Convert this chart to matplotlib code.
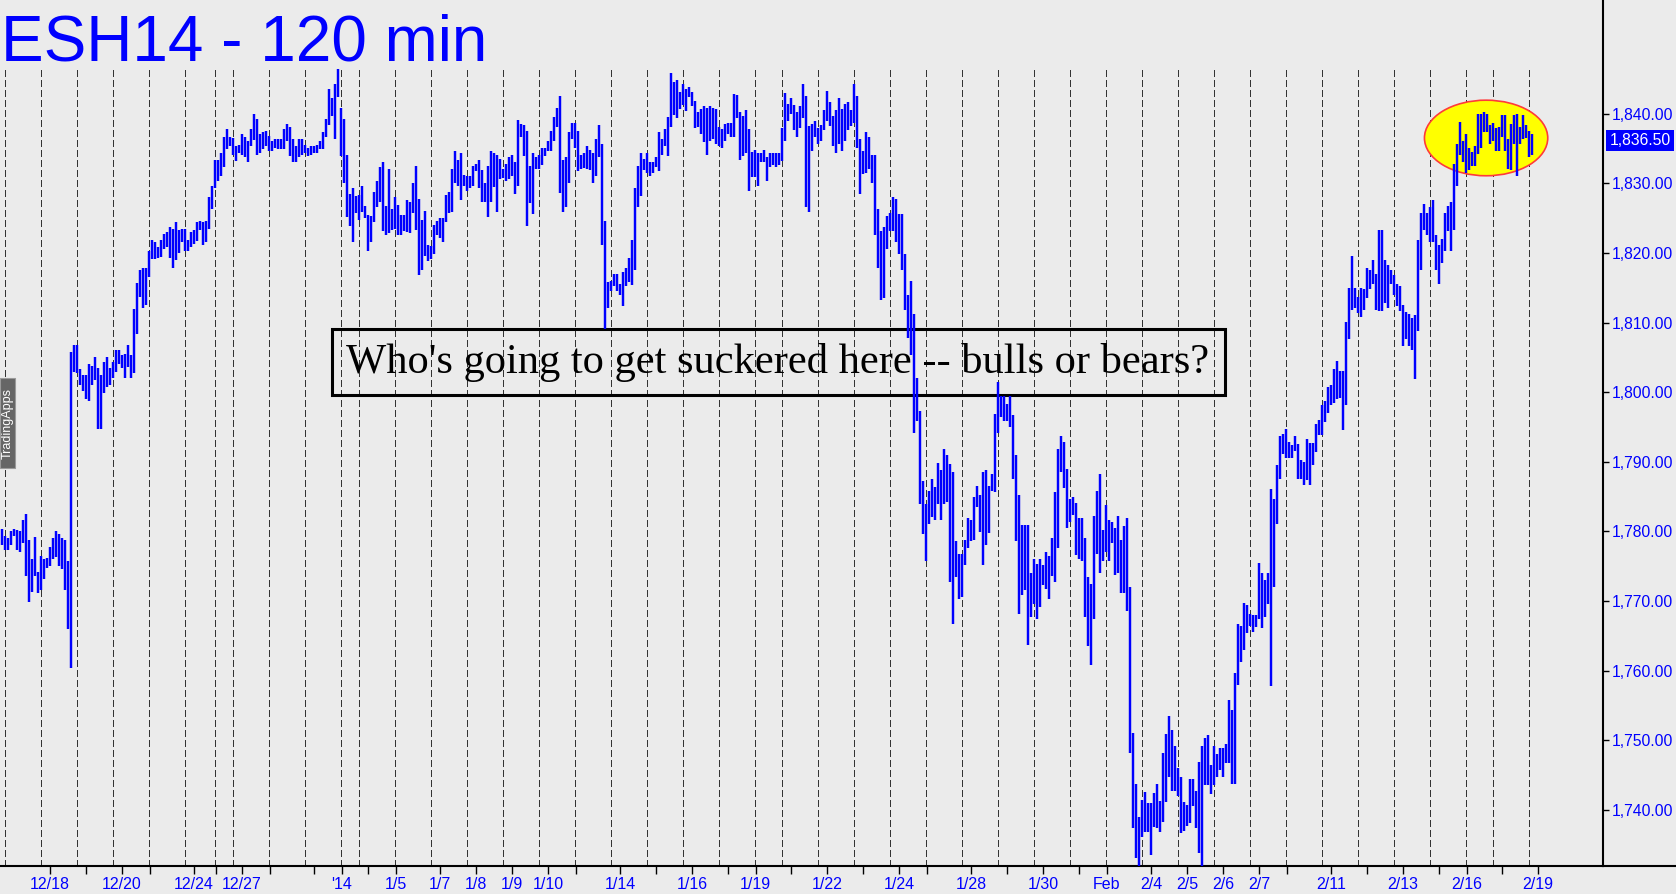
import matplotlib
matplotlib.use("Agg")
import matplotlib.pyplot as plt
from matplotlib.patches import Ellipse, Rectangle
from matplotlib.lines import Line2D
from matplotlib.ticker import FuncFormatter
import numpy as np

plt.rcParams['font.family'] = ['Liberation Sans', 'DejaVu Sans']

# 120-minute bars, high / low for each bar
highs = [
    1780.4, 1779.3, 1779.0, 1780.0, 1780.4, 1780.2, 1780.0, 1781.7, 1782.5, 1778.8, 1776.0, 1779.2,
    1774.2, 1776.5, 1776.0, 1776.2, 1777.8, 1779.0, 1780.0, 1779.7, 1779.0, 1778.8, 1775.7, 1805.7,
    1806.8, 1806.8, 1803.3, 1802.4, 1802.4, 1804.0, 1803.8, 1805.0, 1803.5, 1802.5, 1804.3, 1805.0,
    1803.5, 1804.3, 1806.1, 1806.0, 1805.4, 1805.5, 1806.8, 1805.4, 1812.0, 1815.7, 1817.5, 1817.8,
    1817.9, 1820.2, 1821.8, 1821.5, 1820.8, 1821.8, 1822.7, 1823.0, 1823.7, 1823.5, 1824.5, 1823.3,
    1823.5, 1823.5, 1821.8, 1823.0, 1823.3, 1824.4, 1824.6, 1824.5, 1824.6, 1828.0, 1829.6, 1833.4,
    1833.3, 1834.4, 1836.7, 1837.8, 1836.7, 1836.5, 1835.4, 1835.5, 1837.0, 1836.7, 1836.0, 1837.8,
    1840.0, 1839.2, 1837.0, 1837.3, 1837.5, 1836.8, 1836.1, 1836.3, 1836.4, 1836.4, 1837.8, 1838.5,
    1838.1, 1836.4, 1835.4, 1836.4, 1836.3, 1835.5, 1835.0, 1835.4, 1835.4, 1835.5, 1836.1, 1837.3,
    1839.2, 1843.5, 1842.3, 1844.2, 1846.4, 1840.8, 1839.2, 1834.0, 1828.5, 1829.3, 1828.1, 1828.3,
    1829.6, 1826.7, 1825.5, 1825.3, 1828.8, 1830.3, 1832.3, 1833.1, 1826.7, 1832.0, 1826.3, 1828.0,
    1826.9, 1825.5, 1825.5, 1827.6, 1827.3, 1830.1, 1832.5, 1827.7, 1824.7, 1826.0, 1821.2, 1821.0,
    1824.0, 1824.6, 1825.0, 1825.0, 1828.3, 1828.7, 1832.0, 1834.7, 1833.3, 1834.3, 1831.2, 1831.1,
    1831.0, 1832.5, 1832.8, 1833.3, 1831.9, 1830.0, 1832.5, 1834.7, 1834.3, 1834.0, 1833.5, 1832.0,
    1832.7, 1833.8, 1834.0, 1833.1, 1839.1, 1838.5, 1838.3, 1837.5, 1832.5, 1834.3, 1833.8, 1834.1,
    1835.0, 1835.0, 1836.1, 1837.5, 1839.5, 1840.8, 1842.5, 1833.3, 1833.8, 1837.3, 1838.7, 1838.7,
    1837.5, 1834.0, 1834.3, 1835.3, 1834.8, 1834.3, 1836.3, 1838.3, 1835.7, 1824.6, 1815.8, 1816.0,
    1816.9, 1816.9, 1815.5, 1817.2, 1817.8, 1819.2, 1821.9, 1829.3, 1832.5, 1834.3, 1833.5, 1834.3,
    1833.0, 1833.1, 1833.7, 1837.3, 1836.3, 1837.8, 1839.5, 1845.8, 1844.6, 1844.8, 1843.1, 1844.3,
    1843.6, 1843.8, 1843.1, 1841.8, 1840.3, 1840.6, 1841.1, 1840.8, 1841.1, 1840.8, 1840.6, 1838.1,
    1837.8, 1838.5, 1838.7, 1838.7, 1842.8, 1842.6, 1840.3, 1839.6, 1840.5, 1837.8, 1834.5, 1834.8,
    1834.3, 1834.4, 1834.8, 1833.8, 1834.4, 1834.4, 1834.4, 1834.4, 1838.0, 1843.0, 1841.4, 1842.3,
    1841.3, 1840.2, 1841.1, 1844.2, 1842.5, 1838.2, 1838.5, 1839.0, 1837.9, 1838.3, 1840.5, 1843.3,
    1841.7, 1839.7, 1840.5, 1842.3, 1840.7, 1841.4, 1841.7, 1840.5, 1844.2, 1842.5, 1836.4, 1834.6,
    1837.3, 1836.7, 1834.1, 1834.1, 1826.3, 1823.2, 1823.7, 1825.3, 1825.7, 1828.0, 1827.8, 1825.6,
    1825.6, 1819.8, 1813.9, 1815.9, 1811.2, 1802.1, 1797.3, 1787.2, 1783.9, 1785.8, 1787.5, 1786.4,
    1789.9, 1788.8, 1791.9, 1791.0, 1789.7, 1788.5, 1778.7, 1776.8, 1776.8, 1778.8, 1781.9, 1781.7,
    1785.0, 1786.6, 1785.2, 1788.5, 1788.8, 1786.6, 1788.2, 1796.9, 1801.4, 1799.5, 1799.5, 1798.3,
    1799.5, 1796.7, 1791.0, 1785.2, 1781.0, 1781.0, 1781.0, 1774.1, 1776.0, 1775.4, 1776.0, 1775.2,
    1777.1, 1776.5, 1779.0, 1785.6, 1791.9, 1793.7, 1792.8, 1788.9, 1784.6, 1784.9, 1784.1, 1782.0,
    1782.0, 1779.0, 1773.5, 1772.5, 1782.2, 1785.8, 1788.3, 1780.2, 1783.8, 1781.7, 1781.3, 1780.5,
    1782.2, 1778.8, 1780.8, 1781.9, 1772.0, 1751.1, 1743.7, 1739.0, 1741.4, 1742.6, 1741.0, 1741.0,
    1742.4, 1743.7, 1741.3, 1748.2, 1750.9, 1753.5, 1751.5, 1749.2, 1746.0, 1744.7, 1741.1, 1740.7,
    1744.4, 1744.4, 1742.8, 1746.9, 1749.2, 1750.4, 1750.8, 1746.5, 1749.2, 1748.1, 1748.9, 1748.9,
    1749.5, 1755.8, 1754.3, 1759.7, 1766.7, 1766.4, 1769.8, 1769.4, 1768.2, 1768.0, 1768.0, 1775.5,
    1774.1, 1773.1, 1774.1, 1786.1, 1784.6, 1789.5, 1793.7, 1794.0, 1794.7, 1792.9, 1792.4, 1793.7,
    1792.6, 1790.3, 1790.0, 1793.3, 1792.7, 1792.7, 1795.5, 1796.0, 1798.1, 1798.7, 1800.8, 1801.0,
    1803.4, 1804.5, 1803.0, 1803.0, 1810.1, 1815.0, 1819.6, 1815.0, 1813.6, 1815.0, 1814.8, 1817.9,
    1817.5, 1819.0, 1816.9, 1823.3, 1823.3, 1819.0, 1818.3, 1817.5, 1816.8, 1815.5, 1815.2, 1812.5,
    1811.5, 1811.2, 1810.6, 1811.1, 1821.9, 1825.7, 1827.0, 1825.7, 1826.6, 1827.6, 1822.6, 1821.2,
    1822.0, 1825.7, 1826.8, 1827.3, 1832.7, 1835.7, 1838.8, 1836.1, 1837.0, 1835.1, 1834.5, 1835.3,
    1840.0, 1840.0, 1840.2, 1840.0, 1838.4, 1838.7, 1837.9, 1838.1, 1839.8, 1839.8, 1836.4, 1838.5,
    1839.8, 1840.0, 1838.1, 1839.8, 1838.4, 1837.5, 1837.0,
]
lows = [
    1778.1, 1777.4, 1777.4, 1778.1, 1779.4, 1777.4, 1777.1, 1778.4, 1773.6, 1769.9, 1771.3, 1773.6,
    1771.1, 1771.6, 1773.2, 1774.8, 1775.1, 1776.0, 1776.4, 1775.1, 1774.6, 1771.6, 1766.0, 1760.4,
    1802.9, 1802.7, 1801.0, 1800.1, 1799.0, 1798.7, 1801.0, 1801.7, 1794.7, 1794.7, 1799.9, 1800.8,
    1801.0, 1802.1, 1802.9, 1804.1, 1803.5, 1802.1, 1803.6, 1802.1, 1802.7, 1808.4, 1813.6, 1812.1,
    1812.5, 1816.5, 1819.1, 1819.1, 1819.3, 1819.4, 1820.5, 1820.8, 1819.3, 1817.9, 1819.0, 1820.0,
    1821.6, 1820.2, 1820.2, 1820.8, 1821.3, 1821.7, 1823.3, 1821.2, 1821.6, 1823.5, 1826.3, 1829.3,
    1830.3, 1831.1, 1832.4, 1834.9, 1835.4, 1834.0, 1833.2, 1834.3, 1834.0, 1833.8, 1833.0, 1835.4,
    1836.2, 1834.0, 1834.4, 1834.9, 1835.4, 1834.6, 1834.6, 1835.1, 1834.9, 1834.9, 1834.9, 1836.1,
    1833.9, 1833.1, 1833.1, 1833.7, 1834.1, 1834.4, 1833.9, 1834.1, 1834.4, 1834.4, 1834.9, 1834.9,
    1836.7, 1838.4, 1839.7, 1836.4, 1842.4, 1833.9, 1830.0, 1825.2, 1823.9, 1821.5, 1825.7, 1824.7,
    1825.9, 1825.0, 1820.2, 1821.5, 1824.4, 1826.6, 1827.3, 1823.2, 1822.6, 1822.8, 1823.3, 1823.5,
    1822.6, 1822.6, 1823.1, 1823.0, 1822.9, 1825.7, 1823.3, 1816.8, 1817.5, 1819.6, 1818.8, 1819.1,
    1819.8, 1822.6, 1822.2, 1821.6, 1824.4, 1825.7, 1825.9, 1830.0, 1829.6, 1827.6, 1829.6, 1828.9,
    1829.3, 1829.6, 1831.7, 1829.3, 1827.3, 1827.3, 1825.2, 1827.3, 1829.4, 1825.9, 1830.6, 1830.8,
    1830.3, 1830.6, 1831.1, 1828.4, 1829.6, 1836.7, 1833.9, 1823.9, 1827.1, 1825.6, 1832.0, 1832.0,
    1832.6, 1833.9, 1834.6, 1834.6, 1836.1, 1838.1, 1828.6, 1825.9, 1826.6, 1830.1, 1836.4, 1835.1,
    1831.7, 1832.0, 1832.2, 1832.0, 1831.9, 1830.1, 1831.1, 1833.7, 1821.1, 1809.1, 1812.1, 1814.5,
    1815.2, 1814.5, 1813.9, 1812.4, 1815.2, 1815.8, 1815.4, 1817.5, 1826.6, 1828.2, 1831.9, 1831.4,
    1831.1, 1831.4, 1832.4, 1831.7, 1834.0, 1835.4, 1833.9, 1838.1, 1839.8, 1839.4, 1840.7, 1841.2,
    1840.4, 1842.4, 1841.1, 1838.0, 1838.1, 1837.1, 1835.9, 1834.0, 1836.1, 1836.3, 1835.6, 1835.4,
    1835.1, 1836.1, 1837.1, 1836.7, 1836.7, 1839.4, 1833.3, 1833.9, 1834.4, 1828.9, 1830.9, 1830.9,
    1829.6, 1833.0, 1833.0, 1830.3, 1832.4, 1832.6, 1832.4, 1832.6, 1833.2, 1836.1, 1839.0, 1839.9,
    1837.6, 1836.7, 1838.0, 1839.3, 1826.6, 1825.8, 1834.6, 1836.7, 1835.6, 1836.0, 1837.6, 1839.0,
    1838.2, 1835.4, 1834.4, 1835.6, 1834.6, 1836.0, 1837.6, 1838.2, 1838.7, 1835.0, 1828.4, 1831.3,
    1831.4, 1832.0, 1830.0, 1822.6, 1817.8, 1813.3, 1813.5, 1820.6, 1823.2, 1823.1, 1821.6, 1819.8,
    1817.6, 1811.8, 1807.8, 1805.3, 1794.2, 1795.9, 1783.9, 1779.7, 1775.7, 1781.1, 1782.1, 1781.6,
    1783.9, 1781.7, 1783.9, 1784.2, 1772.8, 1766.7, 1773.4, 1770.3, 1770.6, 1775.2, 1777.6, 1778.7,
    1778.8, 1783.5, 1779.9, 1775.2, 1778.0, 1779.8, 1785.8, 1785.6, 1794.2, 1796.5, 1795.9, 1795.9,
    1795.0, 1787.6, 1778.7, 1768.1, 1770.9, 1771.6, 1763.7, 1767.7, 1769.6, 1767.4, 1769.1, 1772.3,
    1771.8, 1770.3, 1773.6, 1772.8, 1777.7, 1788.6, 1786.2, 1780.5, 1781.4, 1782.4, 1776.6, 1776.0,
    1775.8, 1767.7, 1763.6, 1760.8, 1767.4, 1776.8, 1774.1, 1775.7, 1777.1, 1775.7, 1778.3, 1773.8,
    1774.1, 1771.1, 1771.1, 1768.6, 1748.2, 1737.4, 1733.1, 1731.9, 1736.1, 1736.9, 1736.9, 1733.6,
    1737.6, 1737.4, 1736.9, 1738.3, 1741.1, 1744.8, 1742.8, 1742.8, 1742.0, 1736.7, 1737.0, 1737.7,
    1738.1, 1740.6, 1737.4, 1733.9, 1731.8, 1743.6, 1743.6, 1742.3, 1743.6, 1744.7, 1745.8, 1744.8,
    1746.8, 1746.8, 1743.8, 1743.8, 1757.9, 1761.2, 1763.0, 1765.4, 1766.4, 1765.6, 1766.3, 1767.5,
    1766.1, 1767.7, 1769.6, 1757.8, 1772.0, 1781.1, 1787.5, 1791.1, 1790.6, 1790.6, 1790.6, 1791.6,
    1787.5, 1787.6, 1786.7, 1787.4, 1786.7, 1789.6, 1791.4, 1793.9, 1793.9, 1795.7, 1797.0, 1798.1,
    1798.4, 1799.0, 1799.1, 1794.6, 1798.1, 1807.6, 1811.8, 1812.1, 1811.3, 1810.8, 1811.8, 1813.5,
    1814.8, 1815.5, 1811.8, 1811.7, 1811.7, 1812.8, 1812.1, 1815.5, 1813.9, 1812.4, 1811.7, 1806.7,
    1807.6, 1806.7, 1806.0, 1801.9, 1808.8, 1817.5, 1823.3, 1822.6, 1821.5, 1821.6, 1817.5, 1815.5,
    1818.5, 1820.2, 1823.1, 1820.2, 1823.3, 1829.6, 1834.0, 1833.1, 1831.4, 1831.9, 1832.5, 1832.5,
    1834.2, 1835.1, 1837.4, 1837.4, 1835.7, 1836.0, 1834.6, 1834.6, 1836.7, 1834.6, 1832.1, 1831.9,
    1835.6, 1831.1, 1835.6, 1836.4, 1836.5, 1833.7, 1834.0,
]

# first bar of each session (dashed separators)
session_starts = [2, 14, 26, 38, 50, 62, 72, 78, 90, 102, 114, 120, 132, 144, 156, 168, 180,
                  192, 204, 216, 228, 240, 252, 261, 273, 285, 297, 309, 321, 333, 345, 357,
                  369, 381, 393, 405, 417, 429, 441, 453, 465, 477, 489, 498, 510]

# date axis ticks (bar index) and their labels
tick_bars = [16, 28, 40, 49.2, 64, 71.2, 80, 89.2, 104, 113.2, 122, 131.2, 146, 158, 170, 182,
             191.2, 206, 218, 230, 242, 251.2, 263, 275, 287, 299, 308.2, 323, 335, 347, 359,
             368.2, 383, 395, 407, 419, 428.2, 443, 455, 467, 479, 488.2, 500, 512]
date_labels = {16: '12/18', 40: '12/20', 64: '12/24', 80: '12/27', 113.2: "'14", 131.2: '1/5',
               146: '1/7', 158: '1/8', 170: '1/9', 182: '1/10', 206: '1/14', 230: '1/16',
               251.2: '1/19', 275: '1/22', 299: '1/24', 323: '1/28', 347: '1/30', 368.2: 'Feb',
               383: '2/4', 395: '2/5', 407: '2/6', 419: '2/7', 443: '2/11', 467: '2/13',
               488.2: '2/16', 512: '2/19'}

price_ticks = list(range(1740, 1841, 10))
last_price = 1836.50

title = "ESH14 - 120 min"
note = "Who's going to get suckered here -- bulls or bears?"

BG = '#ebebeb'
BLUE = '#0000ff'
W, H = 1676, 894

fig = plt.figure(figsize=(W / 100, H / 100), dpi=100, facecolor=BG)
ax = fig.add_axes([0, 28 / H, 1603 / W, 866 / H], facecolor=BG)

ymin, ymax = 1731.97, 1856.31
# 3 px per bar, bar centres sitting on pixel edges
ax.set_xlim(-2 / 3, (1603 - 2) / 3)
ax.set_ylim(ymin, ymax)

# session separators
ax.vlines(np.array(session_starts) - 0.9, ymin, 1846.4, colors='#333333',
          linewidth=0.75, linestyles=(0, (6.5, 3)), antialiased=False, zorder=1)

# highlight of the last few sessions
ax.add_patch(Ellipse((494.7, 1836.5), 41.1, 10.85, facecolor='#ffff00',
                     edgecolor='#ff3a3a', linewidth=1.2, zorder=2))

# comment box
ax.add_patch(Rectangle((109.9, 1799.53), 297.9, 9.52, fill=False,
                       edgecolor='black', linewidth=2.2, zorder=3))
ax.text(258.6, 1802.7, note, family=['Liberation Serif', 'DejaVu Serif'], fontsize=30.6,
        ha='center', va='baseline', color='black', zorder=3)

# high-low bars
x = np.arange(len(highs))
ax.vlines(x, lows, highs, colors=BLUE, linewidth=1.75, zorder=4)

# axes styling
for side in ['top', 'left']:
    ax.spines[side].set_visible(False)
ax.spines['right'].set_linewidth(1.5)
ax.spines['bottom'].set_linewidth(1.5)

ax.yaxis.tick_right()
ax.set_yticks(price_ticks)
ax.yaxis.set_major_formatter(FuncFormatter(lambda v, p: f"{v:,.2f}"))
ax.tick_params(axis='y', direction='out', length=4.5, width=1, colors='black',
               labelcolor=BLUE, labelsize=11.3, pad=2)

ax.set_xticks(tick_bars)
ax.set_xticklabels([date_labels.get(t, '') for t in tick_bars])
ax.tick_params(axis='x', direction='out', length=6, width=1, colors='black',
               labelcolor=BLUE, labelsize=11.5, pad=2)

# last price marker on the scale
ax.annotate(f"{last_price:,.2f}", xy=(1, last_price), xycoords=('axes fraction', 'data'),
            xytext=(4.5, -1.8), textcoords='offset points', ha='left', va='center',
            color='white', fontsize=11.3,
            bbox=dict(boxstyle='square,pad=0.22', facecolor=BLUE, edgecolor='none'))

# bottom line continues under the price scale
fig.add_artist(Line2D([1603 / W, 1], [28 / H, 28 / H], color='black', linewidth=1.5,
                      transform=fig.transFigure))

# title
fig.text(0.5 / W, 1 - 60.7 / H, title, fontsize=46, color=BLUE, ha='left', va='baseline')

# small side tab
fig.add_artist(Rectangle((0, (H - 468) / H), 15 / W, 90 / H, transform=fig.transFigure,
                         facecolor='#666666', edgecolor='#9a9a9a', linewidth=0.8))
fig.text(7.5 / W, (H - 423) / H, 'TradingApps', rotation=90, color='white', fontsize=9,
         ha='center', va='center')

fig.savefig('out.png', dpi=100, facecolor=BG)
